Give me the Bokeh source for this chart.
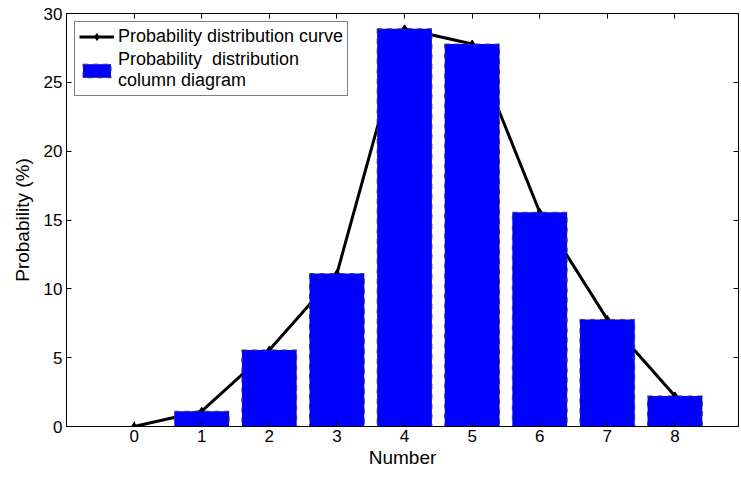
from bokeh.plotting import figure
from bokeh.models import ColumnDataSource, LinearAxis, Legend, LegendItem, Range1d, FixedTicker
from bokeh.embed import file_html
from bokeh.resources import INLINE

numbers = [0, 1, 2, 3, 4, 5, 6, 7, 8]
probability = [0.0, 1.11, 5.56, 11.11, 28.89, 27.78, 15.56, 7.78, 2.22]
bar_numbers = [1, 2, 3, 4, 5, 6, 7, 8]
bar_probability = [1.11, 5.56, 11.11, 28.89, 27.78, 15.56, 7.78, 2.22]
y_ticks = [0, 5, 10, 15, 20, 25, 30]
curve_label = "Probability distribution curve"
bar_label = "Probability  distribution\ncolumn diagram"

FONT = "Liberation Sans"

p = figure(width=740, height=470, output_backend="svg", toolbar_location=None,
           x_range=Range1d(-1, 8.94), y_range=Range1d(0, 30),
           min_border_left=66, min_border_right=2, min_border_top=13, min_border_bottom=42)
p.xgrid.visible = False
p.ygrid.visible = False
p.outline_line_color = "black"
p.outline_line_width = 1
p.background_fill_color = "white"
p.border_fill_color = "white"

src_line = ColumnDataSource(dict(x=numbers, y=probability))
src_bar = ColumnDataSource(dict(x=bar_numbers, top=bar_probability))

line_r = p.line("x", "y", source=src_line, line_color="black", line_width=3)
mark_r = p.scatter("x", "y", source=src_line, marker="diamond", size=8,
                   fill_color="black", line_color="black")
bar_r = p.vbar(x="x", top="top", bottom=0, width=0.81, source=src_bar,
               fill_color="#0000FF", line_color="#404040", line_dash="5 5", line_width=1)

for ax in (p.xaxis[0], p.yaxis[0]):
    ax.major_tick_in = 5
    ax.major_tick_out = 0
    ax.minor_tick_line_color = None
    ax.axis_line_color = "black"
    ax.major_label_text_font = FONT
    ax.major_label_text_font_size = "17px"
    ax.major_label_text_color = "black"
    ax.axis_label_text_font = FONT
    ax.axis_label_text_font_size = "19px"
    ax.axis_label_text_font_style = "normal"
    ax.axis_label_text_color = "black"

p.xaxis[0].ticker = FixedTicker(ticks=numbers)
p.yaxis[0].ticker = FixedTicker(ticks=y_ticks)
p.xaxis[0].axis_label = "Number"
p.yaxis[0].axis_label = "Probability (%)"
p.xaxis[0].axis_label_standoff = 2
p.yaxis[0].axis_label_standoff = 8
p.xaxis[0].major_label_standoff = 3
p.yaxis[0].major_label_standoff = 4

top_ax = LinearAxis(ticker=FixedTicker(ticks=numbers), major_tick_in=5, major_tick_out=0,
                    minor_tick_line_color=None, major_label_text_color=None,
                    major_label_text_font_size="1px",
                    major_label_standoff=0, axis_line_color="black")
right_ax = LinearAxis(ticker=FixedTicker(ticks=y_ticks), major_tick_in=5, major_tick_out=0,
                      minor_tick_line_color=None, major_label_text_color=None,
                      major_label_text_font_size="1px",
                      major_label_standoff=0, axis_line_color="black")
p.add_layout(top_ax, "above")
p.add_layout(right_ax, "right")

legend = Legend(items=[LegendItem(label=curve_label, renderers=[line_r, mark_r]),
                       LegendItem(label=bar_label, renderers=[bar_r])],
                location="top_left", margin=8, padding=4, spacing=2,
                label_text_font=FONT, label_text_font_size="18px",
                label_text_line_height=1.05,
                label_text_color="black", glyph_width=35, glyph_height=17,
                label_standoff=4, border_line_color="black", border_line_width=1,
                background_fill_alpha=1.0, label_height=18)
p.add_layout(legend, "center")

open("out.html", "w").write(file_html(p, INLINE))
